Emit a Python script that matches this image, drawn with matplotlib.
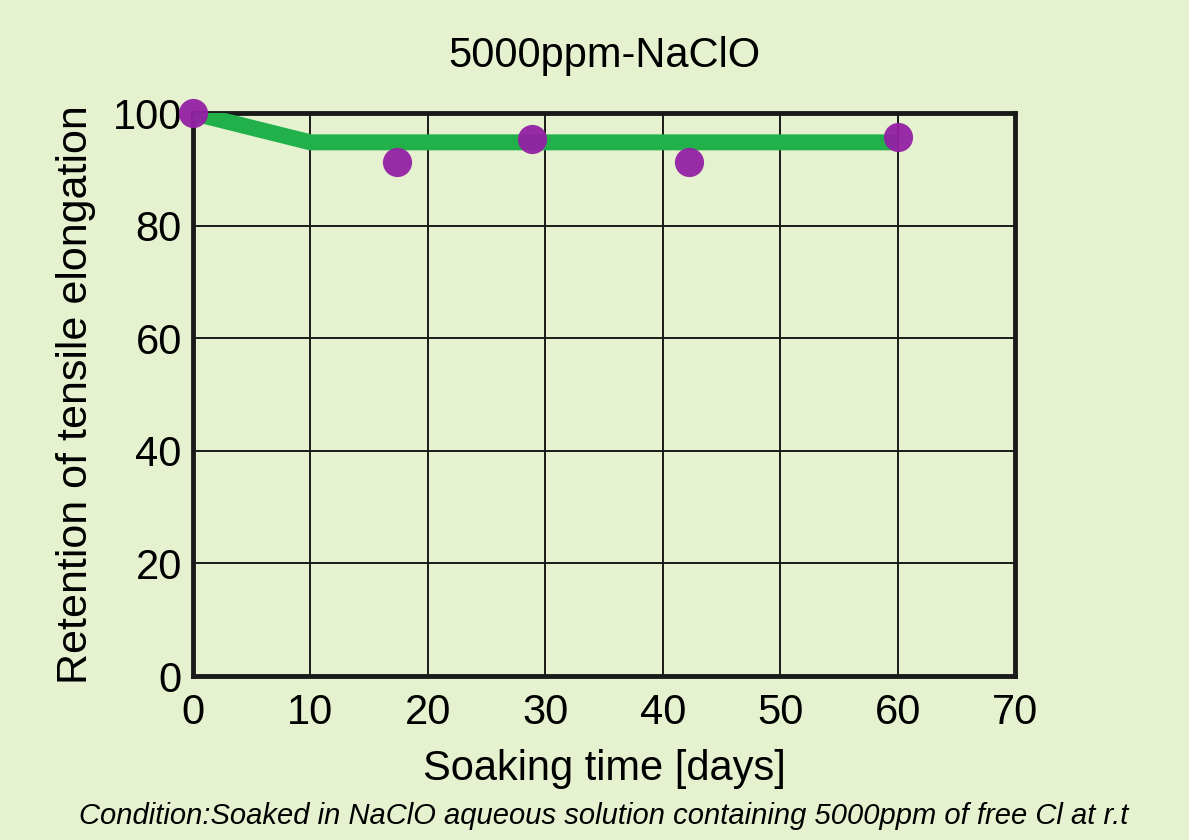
import matplotlib.pyplot as plt

# data
days = [0, 17.4, 28.9, 42.2, 60.0]
retention = [100, 91.3, 95.4, 91.3, 95.7]
trend_days = [0, 10, 60]
trend_retention = [100, 94.8, 94.8]

x_ticks = [0, 10, 20, 30, 40, 50, 60, 70]
y_ticks = [0, 20, 40, 60, 80, 100]

bg = '#e6f2cf'
plt.rcParams['font.family'] = ['Liberation Sans', 'DejaVu Sans']

fig = plt.figure(figsize=(11.89, 8.4), dpi=100, facecolor=bg)
ax = fig.add_axes([0.1623, 0.1952, 0.6914, 0.6702], facecolor=bg)

ax.plot(trend_days, trend_retention, color='#22b04b', linewidth=11.5,
        solid_capstyle='butt', zorder=3)
ax.plot(days, retention, 'o', color='#9420a4', markersize=21, alpha=0.95,
        markeredgewidth=0, clip_on=False, zorder=4)

ax.set_xlim(0, 70)
ax.set_ylim(0, 100)
ax.set_xticks(x_ticks)
ax.set_yticks(y_ticks)
ax.tick_params(axis='both', length=0, labelsize=30)
ax.tick_params(axis='x', pad=12)
ax.tick_params(axis='y', pad=8)
ax.grid(True, color='#1a1a1a', linewidth=1.4)
ax.set_axisbelow(True)
for s in ax.spines.values():
    s.set_linewidth(3.5)
    s.set_color('#1a1a1a')

ax.set_title('5000ppm-NaClO', fontsize=30, pad=33)
ax.set_xlabel('Soaking time [days]', fontsize=30, labelpad=12)
ax.set_ylabel('Retention of tensile elongation', fontsize=31, labelpad=12)

fig.text(0.508, 0.028, 'Condition:Soaked in NaClO aqueous solution containing 5000ppm of free Cl at r.t',
         ha='center', va='center', fontsize=21, style='italic')

fig.savefig('out.png', dpi=100, facecolor=bg)
